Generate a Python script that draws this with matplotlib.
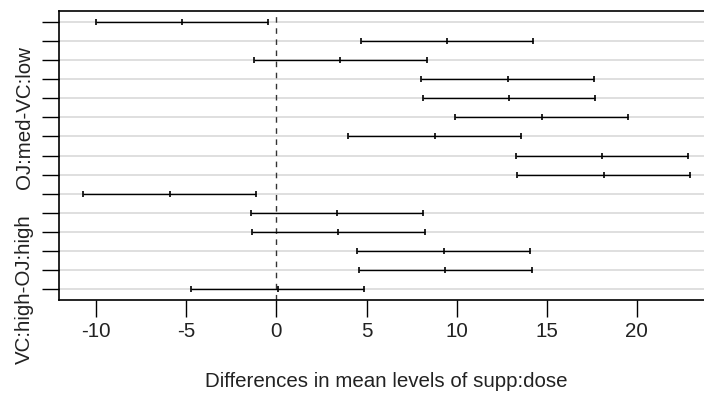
import numpy as np
import matplotlib
matplotlib.use("Agg")
import matplotlib.pyplot as plt

plt.rcParams['font.family'] = ['Liberation Sans', 'DejaVu Sans']

# Tukey HSD for supp:dose (ToothGrowth), top row first
comparisons = ["VC:low-OJ:low", "OJ:med-OJ:low", "VC:med-OJ:low", "OJ:high-OJ:low",
               "VC:high-OJ:low", "OJ:med-VC:low", "VC:med-VC:low", "OJ:high-VC:low",
               "VC:high-VC:low", "VC:med-OJ:med", "OJ:high-OJ:med", "VC:high-OJ:med",
               "OJ:high-VC:med", "VC:high-VC:med", "VC:high-OJ:high"]
diff = [-5.25, 9.47, 3.54, 12.83, 12.91, 14.72, 8.79, 18.08, 18.16,
        -5.93, 3.36, 3.44, 9.29, 9.37, 0.08]
lwr = [-10.048, 4.672, -1.258, 8.032, 8.112, 9.922, 3.992, 13.282, 13.362,
       -10.728, -1.438, -1.358, 4.492, 4.572, -4.718]
upr = [-0.452, 14.268, 8.338, 17.628, 17.708, 19.518, 13.588, 22.878, 22.958,
       -1.132, 8.158, 8.238, 14.088, 14.168, 4.878]
shown_labels = ["OJ:med-VC:low", "VC:high-OJ:high"]
xticks = [-10, -5, 0, 5, 10, 15, 20]

fig = plt.figure(figsize=(7.04, 4.01), dpi=100)
ax = fig.add_axes([59/704, 101/401, 655.2/704, 289/401])

rows = np.arange(1, len(comparisons) + 1)

for y in rows:
    ax.axhline(y, color='#d9d9d9', lw=1.2, zorder=0)

ax.axvline(0, color='#333333', lw=1, ls=(0, (4, 4)), zorder=1)

ax.hlines(rows, lwr, upr, color='black', lw=1, zorder=2)
for col in (lwr, diff, upr):
    ax.plot(col, rows, ls='none', marker='|', ms=5, mew=1.2, color='black', zorder=3)

ax.set_xlim(-12.075, 24.305)
ax.set_ylim(15.56, 0.44)

fs = 14.8
ax.set_yticks(rows)
ax.set_yticklabels([c if c in shown_labels else "" for c in comparisons],
                   rotation=90, va='center', fontsize=fs, color='#222222')
ax.set_xticks(xticks)
ax.set_xticklabels([str(t) for t in xticks], fontsize=fs, color='#222222')
ax.tick_params(axis='both', direction='out', length=12, width=1, color='black')
ax.tick_params(axis='x', pad=4)
ax.tick_params(axis='y', pad=6)

for s in ax.spines.values():
    s.set_linewidth(1.2)

ax.set_xlabel("Differences in mean levels of supp:dose", fontsize=fs,
              color='#222222', labelpad=22)

fig.savefig("out.png", dpi=100)
